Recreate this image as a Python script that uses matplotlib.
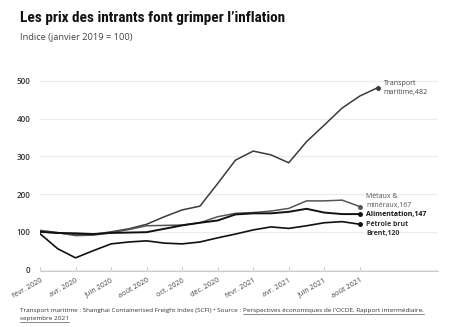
import matplotlib
matplotlib.use("Agg")
from matplotlib import pyplot as plt
from matplotlib import font_manager
from matplotlib.lines import Line2D

# monthly points, févr. 2020 -> août 2021 (transport runs to sept. 2021)
months = list(range(20))
tick_pos = [0, 2, 4, 6, 8, 10, 12, 14, 16, 18]
tick_labels = ["févr. 2020", "avr. 2020", "juin 2020", "août 2020", "oct. 2020",
               "déc. 2020", "févr. 2021", "avr. 2021", "juin 2021", "août 2021"]

transport = [100, 97, 92, 93, 100, 108, 120, 140, 158, 168, 228, 290, 314, 304,
             283, 339, 383, 428, 460, 482]
metaux = [104, 98, 90, 91, 98, 106, 116, 117, 118, 124, 140, 149, 151, 155,
          162, 182, 182, 184, 167]
alimentation = [100, 97, 96, 94, 97, 98, 99, 108, 117, 124, 130, 146, 149, 149,
                153, 161, 151, 147, 147]
brent = [95, 55, 31, 50, 68, 73, 76, 70, 68, 73, 84, 94, 105, 113, 109, 116,
         124, 127, 120]

available = {f.name for f in font_manager.fontManager.ttflist}
body = "Open Sans" if "Open Sans" in available else "DejaVu Sans"
title_font = body
for name in ["Liberation Sans Narrow", "DejaVu Sans Condensed", "Roboto Condensed"]:
    if name in available:
        title_font = name
        break
plt.rcParams["font.family"] = [body, "DejaVu Sans"]

W, H = 457, 327
fig = plt.figure(figsize=(W / 100, H / 100), dpi=100)
fig.patch.set_facecolor("white")
ax = fig.add_axes([40 / W, 0.170, 398 / W, 0.594])

ax.plot(months, transport, color="#3a3a3a", lw=1.1)
ax.plot(months[:19], metaux, color="#555555", lw=1.1)
ax.plot(months[:19], alimentation, color="#111111", lw=1.4)
ax.plot(months[:19], brent, color="#111111", lw=1.2)

# end dots
ax.plot(months[19], transport[19], "o", color="#3a3a3a", ms=2.5)
ax.plot(18, metaux[18], "o", color="#555555", ms=2.5)
ax.plot(18, alimentation[18], "o", color="#111111", ms=2.5)
ax.plot(18, brent[18], "o", color="#111111", ms=2.5)

lab = dict(fontsize=5, va="center", ha="left")
ax.text(19.35, transport[19], "Transport\nmaritime,482", color="#444444",
        linespacing=1.4, **lab)
ax.text(18.35, metaux[18] + 15, "Métaux &\nminéraux,167", color="#555555",
        linespacing=1.4, **lab)
ax.text(18.35, alimentation[18], "Alimentation,147", color="#111111",
        fontweight="bold", **lab)
ax.text(18.35, brent[18] - 13, "Pétrole brut\nBrent,120", color="#333333",
        fontweight="bold", linespacing=1.4, **lab)

ax.set_xlim(0, 22.4)
ax.set_ylim(-5, 510)
ax.set_yticks([0, 100, 200, 300, 400, 500])
ax.set_xticks(tick_pos)
ax.set_xticklabels(tick_labels, rotation=30, ha="right", rotation_mode="anchor")
ax.tick_params(axis="y", length=0, labelsize=5.8, labelcolor="#333333", pad=7)
ax.tick_params(axis="x", length=3, width=0.6, color="#bbbbbb", labelsize=5.2,
               labelcolor="#444444", pad=4, direction="in")
for lbl in ax.get_yticklabels():
    lbl.set_fontweight("semibold")
ax.grid(axis="y", color="#ececec", lw=0.8)
ax.set_axisbelow(True)
for s in ["top", "right", "left"]:
    ax.spines[s].set_visible(False)
ax.spines["bottom"].set_color("#cccccc")
ax.spines["bottom"].set_linewidth(0.8)

fig.text(20 / W, 1 - 18 / H, "Les prix des intrants font grimper l’inflation",
         fontsize=11, fontweight="bold", color="#111111", va="center",
         family=[title_font, "DejaVu Sans"])
fig.text(20 / W, 1 - 38 / H, "Indice (janvier 2019 = 100)", fontsize=6.7,
         color="#444444", va="center")

foot = dict(fontsize=4.6, color="#333333", va="baseline")
t1 = fig.text(20 / W, 1 - 312 / H,
              "Transport maritime : Shanghai Containerised Freight Index (SCFI) • Source : ",
              **foot)
fig.canvas.draw()
r = fig.canvas.get_renderer()
bb1 = t1.get_window_extent(r)
t2 = fig.text(bb1.x1 / W, 1 - 312 / H,
              "Perspectives économiques de l'OCDE, Rapport intermédiaire,", **foot)
t3 = fig.text(20 / W, 1 - 320 / H, "septembre 2021", **foot)
fig.canvas.draw()
for t, base in [(t2, 312), (t3, 320)]:
    bb = t.get_window_extent(r)
    y = 1 - (base + 1.5) / H
    fig.add_artist(Line2D([bb.x0 / W, bb.x1 / W], [y, y], color="#333333",
                          lw=0.4, transform=fig.transFigure))

fig.savefig("out.png", dpi=100)
